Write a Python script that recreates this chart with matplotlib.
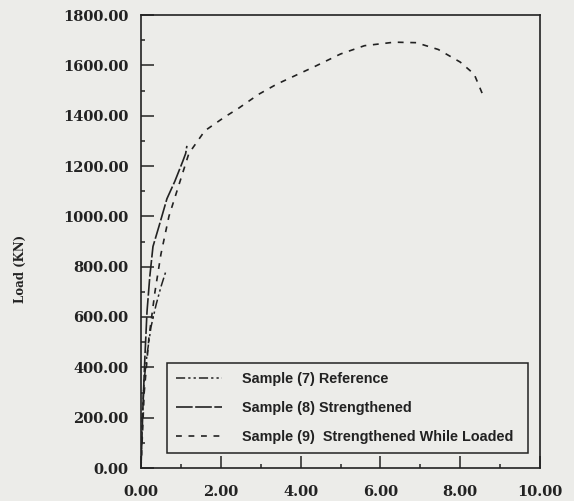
import numpy as np
import matplotlib.pyplot as plt

# deflection (mm) / load (KN)
ref_x = [0.0, 0.03, 0.08, 0.15, 0.25, 0.38, 0.50, 0.62]
ref_y = [0.0, 200, 350, 450, 560, 650, 720, 780]

str_x = [0.0, 0.05, 0.10, 0.15, 0.22, 0.30, 0.45, 0.65, 0.85, 1.05, 1.12, 1.15]
str_y = [0.0, 250, 450, 620, 760, 880, 960, 1070, 1140, 1220, 1250, 1280]

load_x = [0.0, 0.08, 0.20, 0.35, 0.50, 0.70, 0.90, 1.20, 1.60, 2.10, 2.45, 2.95,
          3.40, 4.35, 5.00, 5.60, 6.35, 6.90, 7.45, 8.00, 8.35, 8.60]
load_y = [0.0, 300, 520, 700, 850, 1000, 1100, 1250, 1340, 1395, 1430, 1485,
          1525, 1595, 1645, 1678, 1692, 1690, 1663, 1613, 1565, 1470]

labels = ['Sample (7) Reference',
          'Sample (8) Strengthened',
          'Sample (9)  Strengthened While Loaded']

paper = '#ecece9'
ink = '#222222'

fig = plt.figure(figsize=(5.74, 5.01), dpi=100, facecolor=paper)
ax = fig.add_axes([141/574, 33/501, 399/574, 453/501], facecolor=paper)

ax.plot(ref_x, ref_y, color=ink, lw=1.1, dashes=(6, 2, 1.5, 2, 1.5, 2), label=labels[0])
ax.plot(str_x, str_y, color=ink, lw=1.2, dashes=(10, 1.5), label=labels[1])
ax.plot(load_x, load_y, color=ink, lw=1.2, dashes=(3.5, 4), label=labels[2])

ax.set_xlim(0, 10)
ax.set_ylim(0, 1800)
ax.set_xticks(np.arange(0, 10.1, 2))
ax.set_xticks(np.arange(1, 10, 2), minor=True)
ax.set_yticks(np.arange(0, 1801, 200))
ax.set_yticks(np.arange(100, 1800, 200), minor=True)
ax.set_xticklabels(['%.2f' % v for v in np.arange(0, 10.1, 2)])
ax.set_yticklabels(['%.2f' % v for v in np.arange(0, 1801, 200)])

ax.tick_params(which='both', direction='in', color=ink, width=1.1)
ax.tick_params(which='major', length=9)
ax.tick_params(which='minor', length=3)
ax.tick_params(axis='x', pad=12)
ax.tick_params(axis='y', pad=9)
for lab in ax.get_xticklabels() + ax.get_yticklabels():
    lab.set_family('DejaVu Serif')
    lab.set_weight('bold')
    lab.set_fontsize(10.5)
    lab.set_color(ink)

for s in ax.spines.values():
    s.set_color(ink)
    s.set_linewidth(1.2)

ax.set_ylabel('Load (KN)', family='DejaVu Serif', weight='bold', fontsize=8.5, color=ink)
ax.yaxis.set_label_coords(-0.285, 0.44)

leg = ax.legend(loc='lower left', bbox_to_anchor=(0.065, 0.033, 0.905, 0.19), mode='expand',
                borderaxespad=0, frameon=True, fancybox=False, edgecolor=ink,
                facecolor=paper, framealpha=1,
                handlelength=3.2, handletextpad=1.4, labelspacing=1.05, borderpad=0.6,
                prop={'family': 'Liberation Sans', 'weight': 'bold', 'size': 10.4})
leg.get_frame().set_linewidth(1.1)
for t in leg.get_texts():
    t.set_color(ink)

fig.savefig('out.png', dpi=100, facecolor=paper)
